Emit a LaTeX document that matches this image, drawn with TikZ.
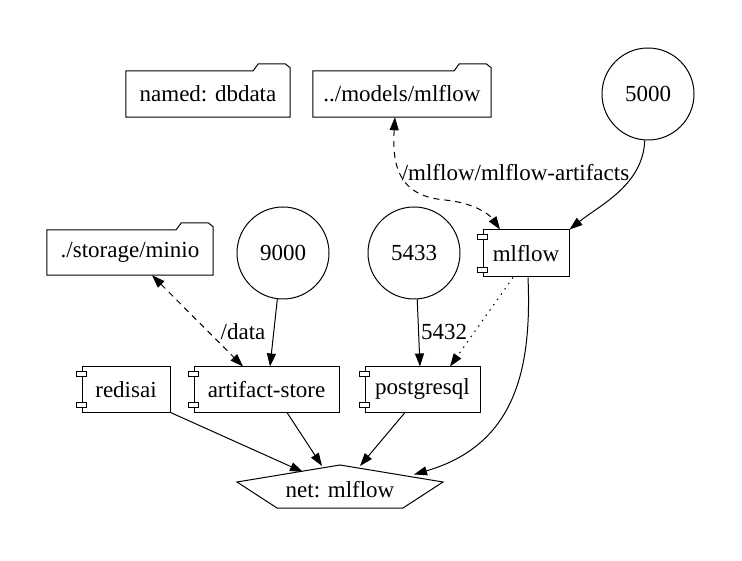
\documentclass[tikz,border=0pt]{standalone}
\usepackage{fontspec}
\setmainfont{Liberation Serif}
\usetikzlibrary{arrows.meta,calc}
\begin{document}
\begin{tikzpicture}[x=1pt,y=-1pt,
  every node/.style={font=\fontsize{23}{27}\selectfont, inner sep=0pt},
  folderbox/.style={minimum height=46pt},
  compbox/.style={draw, line width=1pt, minimum height=45pt},
  portnode/.style={draw, line width=1pt, circle, minimum size=92pt},
  edgelbl/.style={fill=none},
  conn/.style={line width=1pt, -{Triangle[length=13pt,width=9pt]}},
  biconn/.style={line width=1pt, {Triangle[length=13pt,width=9pt]}-{Triangle[length=13pt,width=9pt]}, dash pattern=on 6pt off 5pt}
]
\useasboundingbox (0,0) rectangle (742,561);

% volumes (folders)
\node[folderbox, minimum width=164pt] (dbdata) at (208,94) {named: dbdata};
\node[folderbox, minimum width=178pt] (models) at (402,94) {../models/mlflow};
\node[folderbox, minimum width=166pt, minimum height=45pt] (minio) at (130,252.5) {./storage/minio};
\foreach \n in {dbdata,models,minio}{
  \draw[line width=1pt] (\n.south west) -- (\n.north west) -- ([xshift=-37pt]\n.north east)
    -- ([xshift=-32pt,yshift=7pt]\n.north east) -- ([xshift=-5pt,yshift=7pt]\n.north east)
    -- ([yshift=3pt]\n.north east) -- (\n.south east) -- cycle;
}

% ports
\node[portnode] (p5000) at (648,94) {5000};
\node[portnode] (p9000) at (283,253) {9000};
\node[portnode] (p5433) at (414,253) {5433};

% services (components)
\node[compbox, minimum width=86pt, minimum height=47pt] (mlflow) at (526,253.5) {mlflow};
\node[compbox, minimum width=88pt] (redisai) at (126,389.5) {redisai};
\node[compbox, minimum width=145pt] (artifact) at (266.5,389.5) {artifact-store};
\node[compbox, minimum width=115pt] (postgres) at (422.5,389.5) {postgresql};
\foreach \n in {mlflow,redisai,artifact,postgres}{
  \draw[line width=1pt, fill=white] ([xshift=-5pt,yshift=-5pt]\n.north west) rectangle ++(10pt,-5pt);
  \draw[line width=1pt, fill=white] ([xshift=-5pt,yshift=5pt]\n.south west) rectangle ++(10pt,5pt);
}

% network
\node (net) at (340,490) {net: mlflow};
\draw[line width=1pt] (340,465) -- (443,482) -- (403,508) -- (277,508) -- (237,482) -- cycle;
\coordinate (netA) at (303,472);
\coordinate (netB) at (322,466);
\coordinate (netC) at (360,466);
\coordinate (netD) at (414,474.5);

% edges
\draw[biconn] ([xshift=-7pt]models.south) .. controls (392,165) and (398,196) .. (445,200)
  .. controls (475,203) and (490,215) .. ([xshift=-26pt]mlflow.north);
\node[edgelbl] (lblart) at (515.5,173) {/mlflow/mlflow-artifacts};

\draw[conn] (p5000.266) .. controls (643,185) and (600,205) .. (mlflow.north east);

\draw[biconn] ([xshift=22pt]minio.south) -- ([xshift=-23.5pt]artifact.north);
\node[edgelbl] (lbldata) at (243,332) {/data};

\draw[conn] (p9000.263) -- ([xshift=3.5pt]artifact.north);
\draw[conn] (p5433.274) -- ([xshift=-2.5pt]postgres.north);
\node[edgelbl] (lblport) at (444,332) {5432};

\draw[conn, dash pattern=on 1.5pt off 5pt] ([xshift=-13pt]mlflow.south) -- ([xshift=27.5pt]postgres.north);
\draw[conn] ([xshift=2pt]mlflow.south) .. controls (532,370) and (515,445) .. (netD);

\draw[conn] (redisai.south east) -- (netA);
\draw[conn] ([xshift=20.5pt]artifact.south) -- (netB);
\draw[conn] ([xshift=-17.5pt]postgres.south) -- (netC);
\end{tikzpicture}
\end{document}
